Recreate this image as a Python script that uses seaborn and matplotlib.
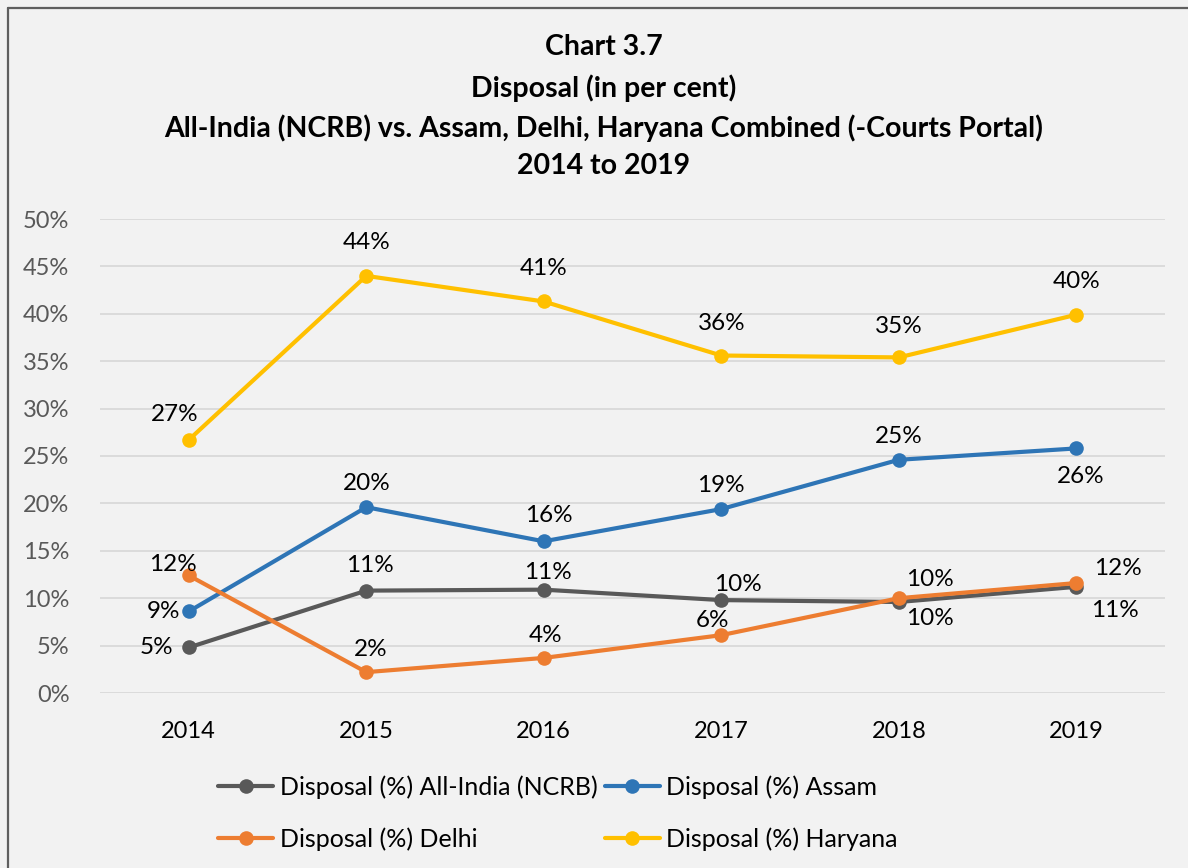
import matplotlib
matplotlib.use("Agg")
import matplotlib.pyplot as plt
import seaborn as sns
import pandas as pd
from matplotlib.lines import Line2D

years = ["2014", "2015", "2016", "2017", "2018", "2019"]
all_india = [0.048, 0.108, 0.109, 0.098, 0.096, 0.112]
assam = [0.086, 0.196, 0.160, 0.194, 0.246, 0.258]
delhi = [0.124, 0.022, 0.037, 0.061, 0.100, 0.116]
haryana = [0.267, 0.440, 0.413, 0.356, 0.354, 0.399]
series_names = ["Disposal (%) All-India (NCRB)", "Disposal (%) Assam",
                "Disposal (%) Delhi", "Disposal (%) Haryana"]
title_lines = ["Chart 3.7", "Disposal (in per cent)",
               "All-India (NCRB) vs. Assam, Delhi, Haryana Combined (-Courts Portal)",
               "2014 to 2019"]

colors = ["#595959", "#2E75B6", "#ED7D31", "#FFC000"]
# label offsets in pixels (dx, dy) per series per point
offsets = [
    [(-32, 0), (4, 25), (4, 17), (17, 16), (31, -17), (39, -24)],
    [(-25, 0), (0, 24), (5, 26), (0, 24), (0, 23), (4, -28)],
    [(-16, 11), (4, 23), (2, 22), (-9, 15), (31, 19), (42, 15)],
    [(-14, 25), (0, 33), (0, 33), (0, 32), (0, 31), (0, 33)],
]

sns.set_theme(style="white")
plt.rcParams["font.family"] = ["Lato", "DejaVu Sans"]

bg = "#F2F2F2"
fig = plt.figure(figsize=(11.88, 8.68), dpi=100, facecolor=bg)
ax = fig.add_axes([100 / 1188, 1 - 693 / 868, 1065 / 1188, (693 - 219) / 868])
ax.set_facecolor(bg)

data = [all_india, assam, delhi, haryana]
frames = []
for name, vals in zip(series_names, data):
    frames.append(pd.DataFrame({"year": years, "value": vals, "series": name}))
df = pd.concat(frames, ignore_index=True)

sns.lineplot(data=df, x="year", y="value", hue="series", palette=colors,
             hue_order=series_names, marker="o", markersize=10.5, linewidth=3,
             markeredgewidth=0, ax=ax, legend=False, sort=False)

for si, vals in enumerate(data):
    for xi, v in enumerate(vals):
        dx, dy = offsets[si][xi]
        ax.annotate(f"{round(v * 100):.0f}%", (xi, v), xytext=(dx, dy),
                    textcoords="offset pixels", ha="center", va="center",
                    fontsize=17.5, color="#000000")

ax.set_xlim(-0.5, 5.5)
ax.set_ylim(0, 0.5)
ax.set_yticks([i * 0.05 for i in range(11)])
ax.set_yticklabels([f"{i * 5}%" for i in range(11)])
ax.set_xlabel("")
ax.set_ylabel("")
ax.grid(axis="y", color="#D9D9D9", linewidth=1.3)
ax.grid(axis="x", visible=False)
for s in ax.spines.values():
    s.set_visible(False)
ax.tick_params(axis="y", labelsize=17, labelcolor="#595959", length=0, pad=22)
ax.tick_params(axis="x", labelsize=17, labelcolor="#000000", length=0, pad=20)

# title
ys = [47, 88, 128, 166]
for line, y in zip(title_lines, ys):
    fig.text(604 / 1188, 1 - y / 868, line, ha="center", va="center",
             fontsize=20.5, fontweight="bold", color="#000000")

# legend
handles = [Line2D([0], [0], color=c, lw=3, marker="o", markersize=10.5,
                  markeredgewidth=0) for c in colors]
order = [0, 2, 1, 3]
fig.legend([handles[i] for i in order], [series_names[i] for i in order],
           ncol=2, loc="center", bbox_to_anchor=(558 / 1188, 1 - 813 / 868),
           frameon=False, fontsize=18, handlelength=2.2, handletextpad=0.25,
           columnspacing=0.3, labelspacing=1.15, labelcolor="#000000")

# frame lines (top and left)
fig.add_artist(Line2D([8 / 1188, 1], [1 - 8 / 868, 1 - 8 / 868],
                      transform=fig.transFigure, color="#5F5F5F", lw=1.6))
fig.add_artist(Line2D([8 / 1188, 8 / 1188], [0, 1 - 8 / 868],
                      transform=fig.transFigure, color="#5F5F5F", lw=1.6))

fig.savefig("out.png", dpi=100, facecolor=bg)
